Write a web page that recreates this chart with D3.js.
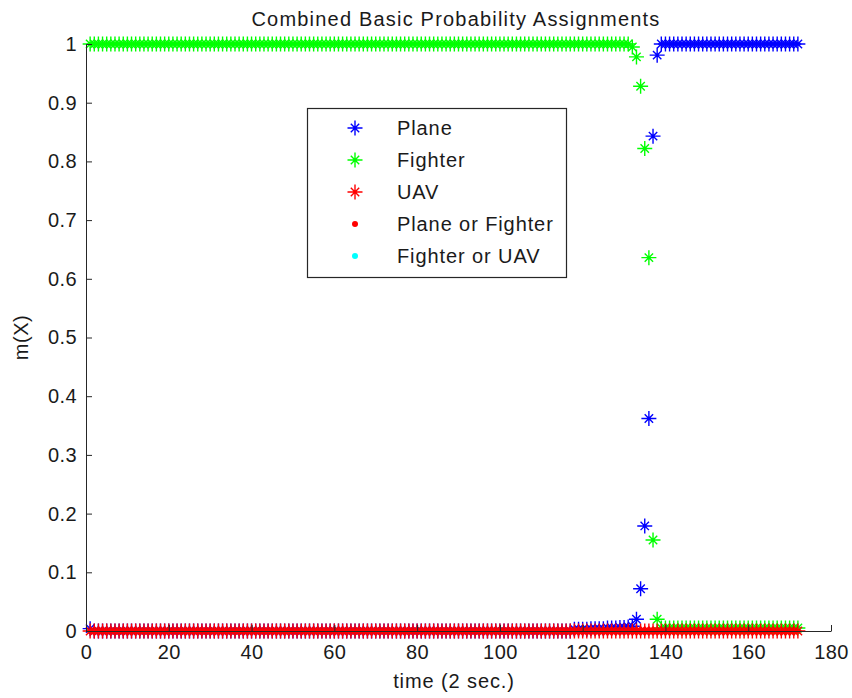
<!DOCTYPE html>
<html>
<head>
<meta charset="utf-8">
<script src="https://cdn.jsdelivr.net/npm/d3@7"></script>
<style>
  body { margin: 0; background: #fff; }
  text { font-family: "Liberation Sans", Arial, sans-serif; fill: #1a1a1a; }
</style>
</head>
<body>
<div id="chart"></div>
<script>
// Series values, one per time step (t = 1 .. 172)
var plane = [
  0.004,0,0,0,0,0,0,0,0,0,0,0,0,0,0,0,0,0,0,0,
  0,0,0,0,0,0,0,0,0,0,0,0,0,0,0,0,0,0,0,0,
  0,0,0,0,0,0,0,0,0,0,0,0,0,0,0,0,0,0,0,0,
  0,0,0,0,0,0,0,0,0,0,0,0,0,0,0,0,0,0,0,0,
  0,0,0,0,0,0,0,0,0,0,0,0,0,0,0,0,0,0,0,0,
  0,0,0,0,0,0,0,0,0,0,0,0,0,0,0,0,0,0.003,0.003,0.003,
  0.003,0.004,0.004,0.004,0.004,0.005,0.005,0.005,0.006,0.006,0.007,0.008,0.02,0.072,0.179,0.362,0.843,0.981,1,1,
  1,1,1,1,1,1,1,1,1,1,1,1,1,1,1,1,1,1,1,1,
  1,1,1,1,1,1,1,1,1,1,1,1
];
var fighter = [
  1,1,1,1,1,1,1,1,1,1,1,1,1,1,1,1,1,1,1,1,
  1,1,1,1,1,1,1,1,1,1,1,1,1,1,1,1,1,1,1,1,
  1,1,1,1,1,1,1,1,1,1,1,1,1,1,1,1,1,1,1,1,
  1,1,1,1,1,1,1,1,1,1,1,1,1,1,1,1,1,1,1,1,
  1,1,1,1,1,1,1,1,1,1,1,1,1,1,1,1,1,1,1,1,
  1,1,1,1,1,1,1,1,1,1,1,1,1,1,1,1,1,1,1,1,
  1,1,1,1,1,1,1,1,1,1,1,0.995,0.978,0.928,0.822,0.636,0.155,0.02,0.005,0.005,
  0.005,0.005,0.005,0.005,0.005,0.005,0.005,0.005,0.005,0.005,0.005,0.005,0.005,0.005,0.005,0.005,0.005,0.005,0.005,0.005,
  0.005,0.005,0.005,0.005,0.005,0.005,0.005,0.005,0.005,0.005,0.005,0.005
];
var uav = [
  0,0,0,0,0,0,0,0,0,0,0,0,0,0,0,0,0,0,0,0,
  0,0,0,0,0,0,0,0,0,0,0,0,0,0,0,0,0,0,0,0,
  0,0,0,0,0,0,0,0,0,0,0,0,0,0,0,0,0,0,0,0,
  0,0,0,0,0,0,0,0,0,0,0,0,0,0,0,0,0,0,0,0,
  0,0,0,0,0,0,0,0,0,0,0,0,0,0,0,0,0,0,0,0,
  0,0,0,0,0,0,0,0,0,0,0,0,0,0,0,0,0,0,0,0,
  0,0,0,0,0,0,0,0,0,0,0,0,0,0,0,0,0,0,0,0,
  0,0,0,0,0,0,0,0,0,0,0,0,0,0,0,0,0,0,0,0,
  0,0,0,0,0,0,0,0,0,0,0,0
];
var planeOrFighter = [
  0,0,0,0,0,0,0,0,0,0,0,0,0,0,0,0,0,0,0,0,
  0,0,0,0,0,0,0,0,0,0,0,0,0,0,0,0,0,0,0,0,
  0,0,0,0,0,0,0,0,0,0,0,0,0,0,0,0,0,0,0,0,
  0,0,0,0,0,0,0,0,0,0,0,0,0,0,0,0,0,0,0,0,
  0,0,0,0,0,0,0,0,0,0,0,0,0,0,0,0,0,0,0,0,
  0,0,0,0,0,0,0,0,0,0,0,0,0,0,0,0,0,0,0,0,
  0,0,0,0,0,0,0,0,0,0,0,0,0,0,0,0,0,0,0,0,
  0,0,0,0,0,0,0,0,0,0,0,0,0,0,0,0,0,0,0,0,
  0,0,0,0,0,0,0,0,0,0,0,0
];
var fighterOrUav = [
  0,0,0,0,0,0,0,0,0,0,0,0,0,0,0,0,0,0,0,0,
  0,0,0,0,0,0,0,0,0,0,0,0,0,0,0,0,0,0,0,0,
  0,0,0,0,0,0,0,0,0,0,0,0,0,0,0,0,0,0,0,0,
  0,0,0,0,0,0,0,0,0,0,0,0,0,0,0,0,0,0,0,0,
  0,0,0,0,0,0,0,0,0,0,0,0,0,0,0,0,0,0,0,0,
  0,0,0,0,0,0,0,0,0,0,0,0,0,0,0,0,0,0,0,0,
  0,0,0,0,0,0,0,0,0,0,0,0,0,0,0,0,0,0,0,0,
  0,0,0,0,0,0,0,0,0,0,0,0,0,0,0,0,0,0,0,0,
  0,0,0,0,0,0,0,0,0,0,0,0
];
var time = d3.range(1, plane.length + 1);

var xTicks = [0, 20, 40, 60, 80, 100, 120, 140, 160, 180];
var yTicks = [0, 0.1, 0.2, 0.3, 0.4, 0.5, 0.6, 0.7, 0.8, 0.9, 1];

var chartTitle = "Combined Basic Probability Assignments";
var xAxisName = "time (2 sec.)";
var yAxisName = "m(X)";

var svgWidth = 852;
var svgHeight = 698;

var margin = { top: 44, right: 21, bottom: 67, left: 86 };
var chartWidth = svgWidth - margin.left - margin.right;
var chartHeight = svgHeight - margin.top - margin.bottom;

var svg = d3.select("#chart")
    .append("svg")
    .attr("width", svgWidth)
    .attr("height", svgHeight);

var chartCanvass = svg.append("g")
    .attr("transform", `translate(${margin.left}, ${margin.top})`);

var xScale = d3.scaleLinear().domain([0, 180]).range([0, chartWidth]);
var yScale = d3.scaleLinear().domain([0, 1]).range([chartHeight, 0]);

// star marker like matlab '*'
var starPath = "M-7.5,0H7.5M0,-7.5V7.5M-4.2,-4.2L4.2,4.2M-4.2,4.2L4.2,-4.2";

// series, in drawing order
var series = [
    { name: "Fighter or UAV", values: fighterOrUav, color: "#00ffff", marker: "dot" },
    { name: "Plane or Fighter", values: planeOrFighter, color: "#ff0000", marker: "dot" },
    { name: "Plane", values: plane, color: "#0000ff", marker: "star" },
    { name: "Fighter", values: fighter, color: "#00ff00", marker: "star" },
    { name: "UAV", values: uav, color: "#ff0000", marker: "star" }
];

series.forEach(s => {
    var pts = time.map((t, i) => ({ t: t, v: s.values[i] }));
    var g = chartCanvass.append("g");
    if (s.marker === "star") {
        g.selectAll("path")
            .data(pts)
            .enter()
            .append("path")
            .attr("d", starPath)
            .attr("transform", d => `translate(${xScale(d.t)}, ${yScale(d.v)})`)
            .attr("fill", "none")
            .attr("stroke", s.color)
            .attr("stroke-width", 1.4);
    } else {
        g.selectAll("circle")
            .data(pts)
            .enter()
            .append("circle")
            .attr("cx", d => xScale(d.t))
            .attr("cy", d => yScale(d.v))
            .attr("r", 3)
            .attr("fill", s.color);
    }
});

// axes
var xAxis = d3.axisBottom(xScale).tickValues(xTicks).tickSizeInner(-6).tickSizeOuter(0).tickPadding(14);
var yAxis = d3.axisLeft(yScale).tickValues(yTicks).tickSizeInner(-6).tickSizeOuter(0).tickPadding(9)
    .tickFormat(d3.format("~g"));

var xg = chartCanvass.append("g")
    .attr("transform", `translate(0, ${chartHeight})`)
    .call(xAxis);
var yg = chartCanvass.append("g")
    .call(yAxis);

[xg, yg].forEach(g => {
    g.selectAll("path, line").attr("stroke", "#262626");
    g.selectAll("text")
        .style("font-size", "20px")
        .style("letter-spacing", "0.4px")
        .attr("fill", "#1a1a1a");
    g.attr("font-family", null);
});

// title
svg.append("text")
    .attr("x", 456)
    .attr("y", 26)
    .attr("text-anchor", "middle")
    .style("font-size", "20px")
    .style("letter-spacing", "1.2px")
    .text(chartTitle);

// x axis label
svg.append("text")
    .attr("x", 454)
    .attr("y", 688)
    .attr("text-anchor", "middle")
    .style("font-size", "20px")
    .style("letter-spacing", "0.9px")
    .text(xAxisName);

// y axis label
svg.append("text")
    .attr("transform", `translate(28, ${margin.top + chartHeight / 2}) rotate(-90)`)
    .attr("text-anchor", "middle")
    .style("font-size", "20px")
    .style("letter-spacing", "0.6px")
    .text(yAxisName);

// legend
var legendOrder = ["Plane", "Fighter", "UAV", "Plane or Fighter", "Fighter or UAV"];
var legend = svg.append("g").attr("transform", "translate(307, 108)");
legend.append("rect")
    .attr("x", 0.5).attr("y", 0.5)
    .attr("width", 259).attr("height", 169)
    .attr("fill", "#fff")
    .attr("stroke", "#262626")
    .attr("stroke-width", 1.2);

legendOrder.forEach((name, i) => {
    var s = series.find(d => d.name === name);
    var row = legend.append("g").attr("transform", `translate(0, ${20 + i * 32})`);
    if (s.marker === "star") {
        row.append("path")
            .attr("d", starPath)
            .attr("transform", "translate(48, 0)")
            .attr("fill", "none")
            .attr("stroke", s.color)
            .attr("stroke-width", 1.4);
    } else {
        row.append("circle")
            .attr("cx", 48).attr("cy", 0).attr("r", 3)
            .attr("fill", s.color);
    }
    row.append("text")
        .attr("x", 90)
        .attr("y", 7)
        .style("font-size", "20px")
        .style("letter-spacing", "0.9px")
        .text(name);
});
</script>
</body>
</html>
